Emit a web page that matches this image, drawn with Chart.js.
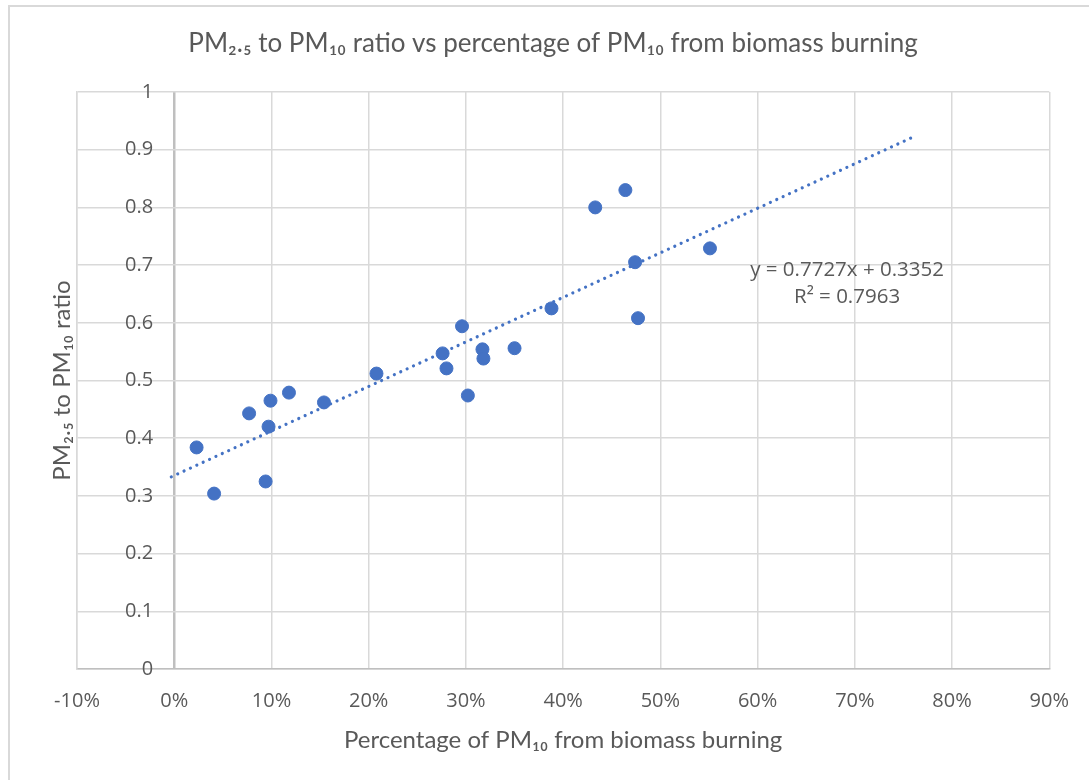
<!DOCTYPE html>
<html>
<head>
<meta charset="utf-8">
<script src="https://cdn.jsdelivr.net/npm/chart.js@4.4.1/dist/chart.umd.min.js"></script>
<style>
  html, body { margin: 0; padding: 0; background: #ffffff; }
  #wrap { position: relative; width: 1089px; height: 780px; }
</style>
</head>
<body>
<div id="wrap"><canvas id="c" width="1089" height="780"></canvas></div>
<script>
// ---- data ----
const titleText = 'PM₂.₅ to PM₁₀ ratio vs percentage of PM₁₀ from biomass burning';
const xAxisTitle = 'Percentage of PM₁₀ from biomass burning';
const yAxisTitle = 'PM₂.₅ to PM₁₀ ratio';
const biomassShare = [0.023, 0.041, 0.077, 0.099, 0.097, 0.094, 0.118, 0.154, 0.208, 0.276, 0.280,
                      0.296, 0.302, 0.317, 0.318, 0.350, 0.388, 0.433, 0.464, 0.474, 0.477, 0.551];
const pmRatio      = [0.384, 0.304, 0.443, 0.465, 0.420, 0.325, 0.479, 0.462, 0.512, 0.547, 0.521,
                      0.594, 0.474, 0.554, 0.538, 0.556, 0.625, 0.800, 0.830, 0.705, 0.608, 0.729];
const trendX = [-0.003, 0.760];
const trendY = [0.333, 0.922];
const equationLines = ['y = 0.7727x + 0.3352', 'R² = 0.7963'];
const xTickValues = [-0.1, 0, 0.1, 0.2, 0.3, 0.4, 0.5, 0.6, 0.7, 0.8, 0.9];
const yTickValues = [0, 0.1, 0.2, 0.3, 0.4, 0.5, 0.6, 0.7, 0.8, 0.9, 1];

const TEXT = '#595959';
const GRID = '#d9d9d9';
const BLUE = '#4472C4';
const TICK_FONT = { family: '"Open Sans", sans-serif', size: 20 };
const TITLE_FAMILY = 'Lato, "Open Sans", sans-serif';

const framePlugin = {
  id: 'frame',
  beforeDraw(chart) {
    const ctx = chart.ctx;
    ctx.save();
    ctx.strokeStyle = GRID;
    ctx.lineWidth = 2;
    ctx.beginPath();
    ctx.moveTo(9, chart.height + 5);
    ctx.lineTo(9, 6);
    ctx.lineTo(chart.width + 5, 6);
    ctx.stroke();
    ctx.restore();
  }
};

const equationPlugin = {
  id: 'equation',
  afterDatasetsDraw(chart) {
    const ctx = chart.ctx;
    const xs = chart.scales.x, ys = chart.scales.y;
    const cx = xs.getPixelForValue(0.692);
    const y1 = ys.getPixelForValue(0.691);
    const y2 = ys.getPixelForValue(0.644);
    ctx.save();
    ctx.fillStyle = TEXT;
    ctx.font = '20.5px "Open Sans", sans-serif';
    ctx.textAlign = 'center';
    ctx.textBaseline = 'middle';
    ctx.fillText(equationLines[0], cx, y1);
    ctx.fillText(equationLines[1], cx, y2);
    ctx.restore();
  }
};

new Chart(document.getElementById('c'), {
  type: 'scatter',
  data: {
    datasets: [
      {
        label: 'PM ratio',
        data: biomassShare.map((x, i) => ({ x: x, y: pmRatio[i] })),
        backgroundColor: BLUE,
        borderColor: BLUE,
        pointRadius: 6.5,
        pointBorderWidth: 1,
        order: 1
      },
      {
        label: 'Linear trend',
        type: 'line',
        data: trendX.map((x, i) => ({ x: x, y: trendY[i] })),
        borderColor: BLUE,
        borderWidth: 3.2,
        borderDash: [0.01, 7],
        borderCapStyle: 'round',
        pointRadius: 0,
        fill: false,
        order: 2
      }
    ]
  },
  options: {
    responsive: false,
    animation: false,
    events: [],
    layout: { padding: { left: 17, right: 0, top: 0, bottom: 0 } },
    plugins: {
      legend: { display: false },
      tooltip: { enabled: false },
      title: {
        display: true,
        text: titleText,
        color: TEXT,
        font: { family: TITLE_FAMILY, size: 26, weight: 'normal', lineHeight: 1.2 },
        padding: { top: 28, bottom: 32.8 }
      }
    },
    scales: {
      x: {
        type: 'linear',
        position: 'bottom',
        min: -0.1,
        max: 0.9,
        afterBuildTicks: (s) => { s.ticks = xTickValues.map(v => ({ value: v })); },
        afterFit: (s) => { s.height = 111; },
        ticks: {
          color: TEXT,
          font: TICK_FONT,
          padding: 20,
          maxRotation: 0,
          autoSkip: false,
          callback: (v) => Math.round(v * 100) + '%'
        },
        grid: {
          drawTicks: false,
          color: (c) => (c.tick && Math.abs(c.tick.value) < 1e-9) ? '#bfbfbf' : GRID,
          lineWidth: (c) => (c.tick && Math.abs(c.tick.value) < 1e-9) ? 2.5 : 1.5
        },
        border: { display: true, color: '#bfbfbf', width: 1.5 },
        title: {
          display: true,
          text: xAxisTitle,
          color: TEXT,
          font: { family: TITLE_FAMILY, size: 24, lineHeight: 1.2 },
          padding: { top: 0, bottom: 25 }
        }
      },
      y: {
        type: 'linear',
        position: 'left',
        min: 0,
        max: 1,
        afterBuildTicks: (s) => { s.ticks = yTickValues.map(v => ({ value: v })); },
        afterFit: (s) => { s.width = 60; },
        ticks: {
          color: TEXT,
          font: TICK_FONT,
          mirror: true,
          crossAlign: 'far',
          padding: 48,
          autoSkip: false,
          callback: (v) => String(Math.round(v * 10) / 10)
        },
        grid: { drawTicks: false, color: GRID, lineWidth: 1.5 },
        border: { display: true, color: GRID, width: 1.5 },
        title: {
          display: true,
          text: yAxisTitle,
          color: TEXT,
          font: { family: TITLE_FAMILY, size: 24, lineHeight: 1.2 },
          padding: { top: 31, bottom: 31 }
        }
      },
      rightGap: {
        type: 'linear',
        position: 'right',
        display: true,
        afterFit: (s) => { s.width = 39; },
        ticks: { display: false },
        grid: { display: false, drawTicks: false },
        border: { display: false }
      }
    }
  },
  plugins: [framePlugin, equationPlugin]
});
</script>
</body>
</html>
